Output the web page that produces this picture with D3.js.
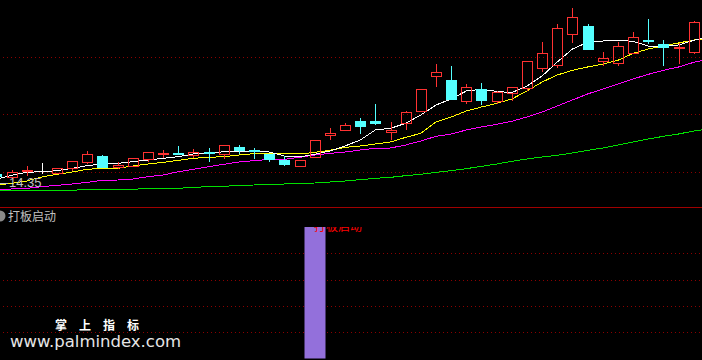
<!DOCTYPE html>
<html>
<head>
<meta charset="utf-8">
<script src="https://cdn.jsdelivr.net/npm/d3@7/dist/d3.min.js"></script>
<style>
  html, body { margin: 0; padding: 0; background: #000; }
  svg { display: block; }
</style>
</head>
<body>
<div id="wrapper"></div>
<script>
// daily bars, first entry is the bar cut by the left edge
const opens  = [14.62, 14.52, 14.73, 14.70, 14.65, 14.79, 14.98, 15.16, 14.82, 14.86, 15.07, 15.24, 15.25, 15.19, 15.29, 15.22, 15.43, 15.34, 15.22, 15.04, 14.86, 15.13, 15.80, 15.94, 16.21, 16.21, 15.88, 16.15, 16.51, 17.57, 17.44, 16.81, 17.17, 16.81, 17.04, 17.19, 17.80, 17.89, 18.82, 19.06, 18.00, 17.95, 18.25, 18.64, 18.52, 18.40, 18.28];
const highs  = [14.68, 14.74, 14.86, 14.95, 14.81, 15.01, 15.31, 15.19, 14.98, 15.10, 15.28, 15.34, 15.46, 15.37, 15.40, 15.49, 15.49, 15.40, 15.22, 15.16, 15.04, 15.64, 16.00, 16.16, 16.30, 16.72, 16.18, 16.51, 17.17, 17.92, 17.86, 17.32, 17.35, 17.11, 17.23, 18.01, 18.58, 19.12, 19.60, 19.11, 18.28, 18.58, 18.88, 19.27, 18.64, 18.55, 19.21];
const lows   = [14.35, 14.50, 14.59, 14.65, 14.64, 14.74, 14.95, 14.83, 14.80, 14.86, 15.02, 15.13, 15.22, 15.14, 15.01, 15.10, 15.25, 15.10, 15.02, 14.89, 14.86, 15.13, 15.67, 15.94, 15.85, 16.12, 15.67, 15.97, 16.51, 17.26, 16.87, 16.75, 16.72, 16.75, 16.84, 17.14, 17.71, 17.83, 18.58, 18.37, 17.89, 17.89, 18.25, 18.55, 17.89, 17.95, 18.25];
const closes = [14.56, 14.68, 14.75, 14.70, 14.80, 15.01, 15.22, 14.83, 14.89, 15.10, 15.28, 15.26, 15.22, 15.28, 15.26, 15.49, 15.34, 15.30, 15.07, 14.92, 15.04, 15.64, 15.85, 16.09, 16.06, 16.15, 15.94, 16.48, 17.17, 17.68, 16.87, 17.23, 16.84, 17.08, 17.23, 18.01, 18.25, 19.00, 19.33, 18.37, 18.10, 18.46, 18.73, 18.60, 18.42, 18.44, 19.18];

// moving averages, one value more on the right (bar beyond the edge)
const ma5  = [14.46, 14.58, 14.67, 14.69, 14.72, 14.79, 14.87, 14.92, 14.94, 14.99, 15.04, 15.09, 15.14, 15.22, 15.24, 15.29, 15.30, 15.31, 15.28, 15.16, 15.13, 15.21, 15.31, 15.46, 15.64, 15.94, 15.99, 16.14, 16.39, 16.69, 16.87, 17.11, 17.16, 17.10, 17.06, 17.26, 17.56, 17.98, 18.37, 18.57, 18.61, 18.63, 18.60, 18.46, 18.46, 18.49, 18.63, 18.73];
const ma10 = [14.28, 14.34, 14.41, 14.53, 14.61, 14.68, 14.76, 14.79, 14.79, 14.86, 14.92, 14.97, 15.03, 15.09, 15.12, 15.14, 15.19, 15.23, 15.24, 15.24, 15.22, 15.27, 15.33, 15.42, 15.46, 15.52, 15.58, 15.72, 15.84, 16.18, 16.33, 16.51, 16.63, 16.74, 16.87, 17.11, 17.38, 17.59, 17.73, 17.83, 17.92, 18.03, 18.24, 18.37, 18.46, 18.55, 18.64, 18.69];
const ma20 = [14.13, 14.17, 14.19, 14.24, 14.28, 14.32, 14.37, 14.43, 14.44, 14.47, 14.54, 14.59, 14.69, 14.76, 14.84, 14.91, 14.98, 15.02, 15.06, 15.06, 15.12, 15.19, 15.24, 15.28, 15.34, 15.39, 15.40, 15.49, 15.61, 15.75, 15.82, 15.94, 16.03, 16.11, 16.20, 16.33, 16.48, 16.66, 16.84, 17.02, 17.17, 17.32, 17.47, 17.61, 17.73, 17.83, 17.97, 18.06];
const ma60 = [14.13, 14.13, 14.13, 14.13, 14.13, 14.13, 14.16, 14.16, 14.16, 14.16, 14.19, 14.19, 14.19, 14.22, 14.24, 14.25, 14.28, 14.29, 14.31, 14.32, 14.34, 14.35, 14.38, 14.41, 14.45, 14.49, 14.52, 14.57, 14.61, 14.67, 14.72, 14.78, 14.85, 14.92, 15.00, 15.07, 15.13, 15.18, 15.25, 15.33, 15.40, 15.49, 15.58, 15.67, 15.75, 15.82, 15.91, 15.97];

// "打板启动" signal per bar
const signal = [0, 0, 0, 0, 0, 0, 0, 0, 0, 0, 0, 0, 0, 0, 0, 0, 0, 0, 0, 0, 0, 1, 0, 0, 0, 0, 0, 0, 0, 0, 0, 0, 0, 0, 0, 0, 0, 0, 0, 0, 0, 0, 0, 0, 0, 0, 0];

const lowLabel = "14.35";
const indicatorName = "打板启动";
const signalText = "打板启动";
const watermarkTitle = "掌上指标";
const watermarkUrl = "www.palmindex.com";

const firstIndex = -1;

function draw() {
  const dimensions = {
    width: 702,
    height: 360,
    bodyWidth: 11,
    separatorY: 207.5,
    upperGrid: [57.5, 114.5, 172.5],
    lower: { top: 227, bottom: 358.5 }
  };

  const colors = {
    up: "#ff3232",
    down: "#54ffff",
    flat: "#ffffff",
    grid: "#8c0000",
    separator: "#a00000",
    label: "#c0c0c0"
  };

  const candles = opens.map((o, k) => ({
    i: k + firstIndex,
    open: o,
    high: highs[k],
    low: lows[k],
    close: closes[k]
  }));

  const wrapper = d3.select("#wrapper")
    .append("svg")
    .attr("width", dimensions.width)
    .attr("height", dimensions.height)
    .style("background", "#000");

  // scales
  const xScale = d3.scaleLinear().domain([0, 45]).range([11.5, 693.7]);
  const yScale = d3.scaleLinear().domain([14.35, 19.60]).range([183, 8]);
  const sigScale = d3.scaleLinear().domain([0, 1])
    .range([dimensions.lower.bottom, dimensions.lower.top]);

  // grid
  const dotted = (g, ys) => g.selectAll("line").data(ys).join("line")
    .attr("x1", 3).attr("x2", dimensions.width)
    .attr("y1", d => d).attr("y2", d => d)
    .attr("stroke", colors.grid)
    .attr("stroke-dasharray", "1,3")
    .attr("shape-rendering", "crispEdges");

  wrapper.append("g").call(dotted, dimensions.upperGrid);
  wrapper.append("g").call(dotted,
    [0.2, 0.4, 0.6, 0.8].map(v => Math.round(sigScale(v)) + 0.5));

  wrapper.append("line")
    .attr("x1", 0).attr("x2", dimensions.width)
    .attr("y1", dimensions.separatorY).attr("y2", dimensions.separatorY)
    .attr("stroke", colors.separator)
    .attr("shape-rendering", "crispEdges");

  // moving averages
  const maLine = d3.line()
    .x((d, k) => xScale(k + firstIndex))
    .y(d => yScale(d));

  const maGroup = wrapper.append("g");
  [[ma60, "#00e000"], [ma20, "#ff00ff"], [ma10, "#ffff00"], [ma5, "#ffffff"]]
    .forEach(([series, color]) => {
      maGroup.append("path")
        .attr("d", maLine(series))
        .attr("fill", "none")
        .attr("stroke", color)
        .attr("stroke-width", 1)
        .attr("shape-rendering", "crispEdges");
    });

  // candles
  const half = (dimensions.bodyWidth - 1) / 2;
  const candleGroup = wrapper.append("g").attr("shape-rendering", "crispEdges");
  candles.forEach(d => {
    const cx = Math.round(xScale(d.i));
    const left = cx - half;
    const top = Math.round(yScale(Math.max(d.open, d.close)));
    const bottom = Math.round(yScale(Math.min(d.open, d.close)));
    const hi = Math.round(yScale(d.high));
    const lo = Math.round(yScale(d.low));
    const g = candleGroup.append("g");

    if (d.close > d.open) {
      if (hi < top) g.append("line").attr("x1", cx + 0.5).attr("x2", cx + 0.5)
        .attr("y1", hi).attr("y2", top).attr("stroke", colors.up);
      if (lo > bottom) g.append("line").attr("x1", cx + 0.5).attr("x2", cx + 0.5)
        .attr("y1", bottom + 1).attr("y2", lo + 1).attr("stroke", colors.up);
      g.append("rect")
        .attr("x", left + 0.5).attr("y", top + 0.5)
        .attr("width", dimensions.bodyWidth - 1)
        .attr("height", Math.max(1, bottom - top))
        .attr("fill", "none").attr("stroke", colors.up);
    } else if (d.close < d.open) {
      g.append("line").attr("x1", cx + 0.5).attr("x2", cx + 0.5)
        .attr("y1", hi).attr("y2", lo + 1).attr("stroke", colors.down);
      g.append("rect")
        .attr("x", left).attr("y", top)
        .attr("width", dimensions.bodyWidth)
        .attr("height", Math.max(1, bottom - top + 1))
        .attr("fill", colors.down);
    } else {
      g.append("line").attr("x1", cx + 0.5).attr("x2", cx + 0.5)
        .attr("y1", hi).attr("y2", lo + 1).attr("stroke", colors.flat);
      g.append("line").attr("x1", left).attr("x2", left + dimensions.bodyWidth)
        .attr("y1", top + 0.5).attr("y2", top + 0.5).attr("stroke", colors.flat);
    }
  });

  // lowest price marker
  const lowY = Math.round(yScale(d3.min(lows))) + 0.5;
  wrapper.append("line")
    .attr("x1", 0).attr("x2", 8)
    .attr("y1", lowY).attr("y2", lowY)
    .attr("stroke", colors.label)
    .attr("shape-rendering", "crispEdges");
  wrapper.append("text")
    .attr("x", 9).attr("y", lowY + 3)
    .attr("fill", colors.label)
    .style("font", "13px 'Liberation Sans', Arial, sans-serif")
    .text(lowLabel);

  // indicator title
  wrapper.append("circle")
    .attr("cx", 0).attr("cy", 216).attr("r", 5.5)
    .attr("fill", "#8a8a8a");
  wrapper.append("text")
    .attr("x", 8).attr("y", 221)
    .attr("fill", colors.label)
    .style("font", "12px 'Noto Sans CJK SC', sans-serif")
    .text(indicatorName);

  // signal bars
  wrapper.append("clipPath").attr("id", "lower-clip")
    .append("rect")
    .attr("x", 0).attr("y", dimensions.lower.top)
    .attr("width", dimensions.width)
    .attr("height", dimensions.height - dimensions.lower.top);

  const lower = wrapper.append("g").attr("clip-path", "url(#lower-clip)");
  const hits = signal.map((v, k) => ({ i: k + firstIndex, v })).filter(d => d.v > 0);

  lower.selectAll(".signal-bar").data(hits).join("rect")
    .attr("class", "signal-bar")
    .attr("x", d => Math.round(xScale(d.i)) - 10.5)
    .attr("width", 21)
    .attr("y", d => sigScale(d.v))
    .attr("height", d => sigScale(0) - sigScale(d.v))
    .attr("fill", "#9370db");

  lower.selectAll(".signal-text").data(hits).join("text")
    .attr("class", "signal-text")
    .attr("x", d => Math.round(xScale(d.i)) - 1)
    .attr("y", d => sigScale(d.v) + 4)
    .attr("fill", "#ff0000")
    .style("font", "12px 'Noto Sans CJK SC', sans-serif")
    .text(signalText);

  // watermark
  wrapper.append("text")
    .attr("x", 55).attr("y", 329.5)
    .attr("fill", "#ffffff")
    .style("font", "bold 12px 'Noto Sans CJK SC', sans-serif")
    .style("letter-spacing", "12px")
    .text(watermarkTitle);
  wrapper.append("text")
    .attr("x", 10).attr("y", 347)
    .attr("fill", "#e6e6e6")
    .style("font", "16.5px 'DejaVu Sans', sans-serif")
    .text(watermarkUrl);
}

draw();
</script>
</body>
</html>
